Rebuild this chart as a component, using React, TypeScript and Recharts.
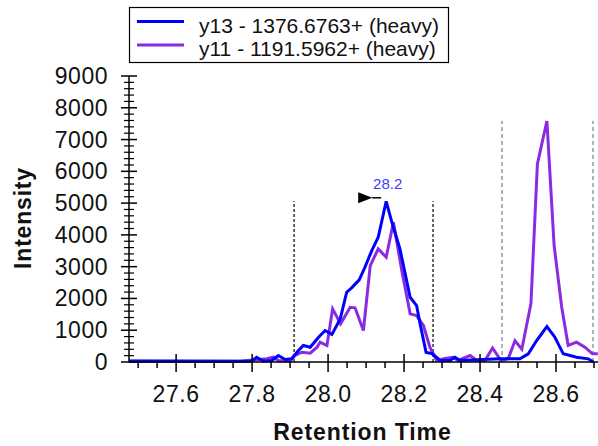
import React from 'react';
import { LineChart, Line, XAxis, YAxis, ReferenceLine, ReferenceDot } from 'recharts';

// Retention times (min) and intensities
const blueRt = [27.476, 27.768, 27.799, 27.812, 27.83, 27.852, 27.869, 27.887, 27.904, 27.922, 27.935, 27.953, 27.975, 27.992, 28.01, 28.032, 28.049, 28.062, 28.082, 28.097, 28.115, 28.132, 28.153, 28.168, 28.189, 28.216, 28.233, 28.242, 28.258, 28.273, 28.289, 28.295, 28.321, 28.334, 28.347, 28.453, 28.505, 28.527, 28.549, 28.576, 28.597, 28.619, 28.654, 28.685, 28.698];
const blueInt = [31, 25, 25, 150, 25, 47, 204, 79, 100, 362, 519, 465, 780, 990, 870, 1358, 2195, 2333, 2585, 2981, 3506, 3925, 5057, 4396, 3569, 2038, 1777, 1211, 299, 267, 110, 47, 47, 151, 47, 100, 100, 258, 676, 1116, 780, 258, 151, 100, 0];

const purpleRt = [27.476, 27.768, 27.839, 27.856, 27.869, 27.9, 27.913, 27.931, 27.953, 27.971, 27.979, 27.997, 28.012, 28.033, 28.058, 28.071, 28.093, 28.111, 28.132, 28.153, 28.172, 28.194, 28.216, 28.233, 28.251, 28.268, 28.286, 28.308, 28.329, 28.342, 28.374, 28.391, 28.413, 28.433, 28.455, 28.474, 28.492, 28.51, 28.534, 28.551, 28.576, 28.595, 28.615, 28.632, 28.654, 28.676, 28.696, 28.71];
const purpleInt = [25, 25, 100, 151, 47, 25, 204, 308, 277, 465, 623, 519, 1673, 1201, 1723, 1704, 991, 3035, 3560, 3296, 4396, 2877, 1516, 1462, 1148, 465, 47, 110, 151, 47, 204, 47, 47, 440, 47, 100, 667, 403, 1840, 6233, 7585, 3664, 1723, 519, 623, 465, 258, 258];

const seriesNames = ['y13 - 1376.6763+ (heavy)', 'y11 - 1191.5962+ (heavy)'];
const seriesColors = ['#0000ff', '#8a2be2'];

const xTicks = [27.5, 27.55, 27.6, 27.65, 27.7, 27.75, 27.8, 27.85, 27.9, 27.95, 28.0, 28.05, 28.1, 28.15, 28.2, 28.25, 28.3, 28.35, 28.4, 28.45, 28.5, 28.55, 28.6, 28.65, 28.7];
const yTicks = Array.from({ length: 46 }, (_, i) => i * 200);

const peakBoundaries = [27.9105, 28.2763];
const peakBoundaryTop = 5057;
const otherBoundaries = [28.4579, 28.6974];
const otherBoundaryTop = 7594;
const peakRt = 28.153;
const peakInt = 5057;
const peakLabel = '28.2';

const blueData = blueRt.map((x, i) => ({ x, y: blueInt[i] }));
const purpleData = purpleRt.map((x, i) => ({ x, y: purpleInt[i] }));

const FONT = '"Liberation Sans", Arial, sans-serif';

const XTick = (props: any) => {
  const { x, y, payload } = props;
  const v = payload.value;
  const tenths = Math.round(v * 10);
  const isMajor = Math.abs(v * 10 - tenths) < 1e-6 && tenths % 2 === 0;
  if (isMajor) {
    return (
      <g>
        <line x1={x} x2={x} y1={y - 8} y2={y + 10} stroke="#000" strokeWidth={1.5} />
        <text x={x} y={y + 40} textAnchor="middle" fontFamily={FONT} fontSize={23} letterSpacing={0.6} fill="#111">
          {v.toFixed(1)}
        </text>
      </g>
    );
  }
  return <line x1={x} x2={x} y1={y} y2={y + 6} stroke="#000" strokeWidth={1.5} />;
};

const YTick = (props: any) => {
  const { x, y, payload } = props;
  const v = payload.value;
  if (v % 1000 === 0) {
    return (
      <g>
        <line x1={x - 8} x2={x + 8} y1={y} y2={y} stroke="#000" strokeWidth={1.5} />
        <text x={x - 21} y={y + 8} textAnchor="end" fontFamily={FONT} fontSize={23} letterSpacing={0.5} fill="#111">
          {v}
        </text>
      </g>
    );
  }
  return <line x1={x - 5} x2={x + 5} y1={y} y2={y} stroke="#000" strokeWidth={1.2} />;
};

const PeakMarker = (props: any) => {
  const { cx, cy } = props;
  return (
    <g>
      <polygon points={`${cx - 28},${cy - 9} ${cx - 28},${cy + 2} ${cx - 14},${cy - 3.5}`} fill="#000" />
      <line x1={cx - 14} x2={cx - 5} y1={cy - 3.5} y2={cy - 3.5} stroke="#000" strokeWidth={1.5} />
      <text x={cx + 1.5} y={cy - 12} textAnchor="middle" fontFamily={FONT} fontSize={15} fill="#3c3cff">
        {peakLabel}
      </text>
    </g>
  );
};

export default function App() {
  return (
    <div style={{ position: 'absolute', left: 0, top: 0, width: 598, height: 446, background: '#fff' }}>
      <LineChart
        width={598}
        height={446}
        margin={{ top: 76, right: 0, bottom: 0, left: 0 }}
      >
        <XAxis
          type="number"
          dataKey="x"
          domain={[27.476, 28.7105]}
          ticks={xTicks}
          interval={0}
          allowDataOverflow
          height={84}
          tickSize={0}
          tickMargin={0}
          tick={<XTick />}
          axisLine={{ stroke: '#000', strokeWidth: 1.5 }}
          tickLine={false}
        />
        <YAxis
          type="number"
          dataKey="y"
          domain={[0, 9000]}
          ticks={yTicks}
          interval={0}
          width={129}
          tickSize={0}
          tickMargin={0}
          tick={<YTick />}
          axisLine={{ stroke: '#000', strokeWidth: 1.5 }}
          tickLine={false}
        />
        {peakBoundaries.map((b) => (
          <ReferenceLine
            key={'pb' + b}
            segment={[{ x: b, y: 0 }, { x: b, y: peakBoundaryTop }]}
            stroke="#000"
            strokeWidth={1.2}
            strokeDasharray="3 2"
          />
        ))}
        {otherBoundaries.map((b) => (
          <ReferenceLine
            key={'ob' + b}
            segment={[{ x: b, y: 0 }, { x: b, y: otherBoundaryTop }]}
            stroke="#999"
            strokeWidth={1.5}
            strokeDasharray="4 3"
          />
        ))}
        <Line
          data={purpleData}
          dataKey="y"
          type="linear"
          stroke={seriesColors[1]}
          strokeWidth={3}
          dot={false}
          isAnimationActive={false}
        />
        <Line
          data={blueData}
          dataKey="y"
          type="linear"
          stroke={seriesColors[0]}
          strokeWidth={3}
          dot={false}
          isAnimationActive={false}
        />
        <ReferenceDot x={peakRt} y={peakInt} r={0} shape={<PeakMarker />} />
      </LineChart>
      <svg
        width={598}
        height={446}
        style={{ position: 'absolute', left: 0, top: 0, pointerEvents: 'none' }}
      >
        <rect x={129.5} y={7.5} width={319} height={55} fill="#fff" stroke="#000" strokeWidth={1.2} />
        <line x1={137} x2={184} y1={21.5} y2={21.5} stroke={seriesColors[0]} strokeWidth={3} />
        <line x1={137} x2={184} y1={45} y2={45} stroke={seriesColors[1]} strokeWidth={3} />
        <text x={199} y={33} fontFamily={FONT} fontSize={21} fill="#111">{seriesNames[0]}</text>
        <text x={199} y={55.5} fontFamily={FONT} fontSize={21} fill="#111">{seriesNames[1]}</text>
        <text
          x={31}
          y={218}
          transform="rotate(-90 31 218)"
          textAnchor="middle"
          fontFamily={FONT}
          fontSize={23}
          fontWeight="bold"
          letterSpacing={0.8}
          fill="#111"
        >
          Intensity
        </text>
        <text x={362.5} y={440} textAnchor="middle" fontFamily={FONT} fontSize={23} fontWeight="bold" letterSpacing={0.9} fill="#111">
          Retention Time
        </text>
      </svg>
    </div>
  );
}
